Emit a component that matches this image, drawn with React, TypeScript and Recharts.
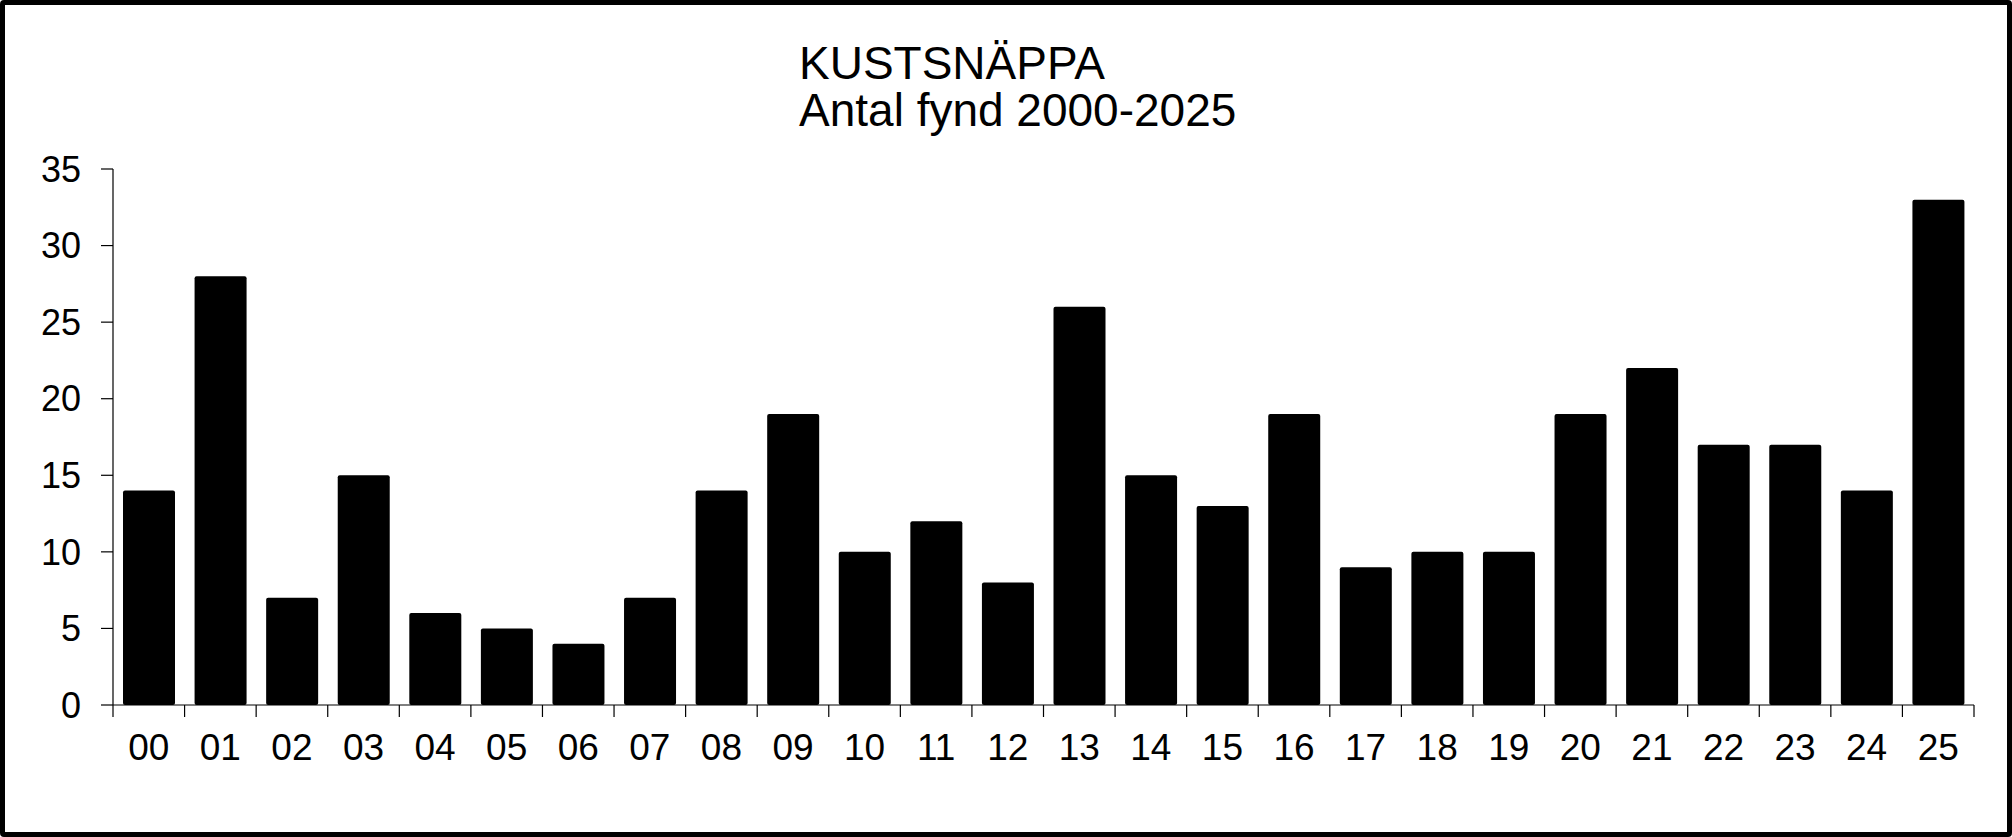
import { BarChart, Bar, XAxis, YAxis } from 'recharts';

const YEARS = ['00', '01', '02', '03', '04', '05', '06', '07', '08', '09', '10', '11', '12',
    '13', '14', '15', '16', '17', '18', '19', '20', '21', '22', '23', '24', '25'];
const FYND = [14, 28, 7, 15, 6, 5, 4, 7, 14, 19, 10, 12, 8, 26, 15, 13, 19, 9, 10, 10, 19, 22, 17, 17, 14, 33];
const Y_TICKS = [0, 5, 10, 15, 20, 25, 30, 35];

const data = YEARS.map((year, i) => ({ year, fynd: FYND[i] }));

const FONT = '"Liberation Sans", Arial, sans-serif';
const TICK_LEN = 12;

// category ticks: label in the middle, tick marks on the band edges (Excel style)
function YearTick(props: any) {
    const { x, y, width, payload, index } = props;
    const band = width / YEARS.length;
    const left = x - band / 2;
    const right = x + band / 2;
    return (
        <g>
            <line x1={left} x2={left} y1={y - TICK_LEN} y2={y} stroke="#000" strokeWidth={1.2} />
            {index === YEARS.length - 1 && (
                <line x1={right} x2={right} y1={y - TICK_LEN} y2={y} stroke="#000" strokeWidth={1.2} />
            )}
            <text x={x} y={y + 17} dy="0.71em" textAnchor="middle" fill="#000" fontSize={37} fontFamily={FONT}>
                {payload.value}
            </text>
        </g>
    );
}

export default function App() {
    return (
        <div style={{ position: 'absolute', left: 0, top: 0, width: 2012, height: 837, background: '#fff', fontFamily: FONT }}>
            <BarChart
                width={2012}
                height={837}
                data={data}
                margin={{ top: 169, right: 38, bottom: 72, left: 0 }}
                style={{ position: 'absolute', left: 0, top: 0 }}
            >
                <XAxis
                    dataKey="year"
                    height={60}
                    interval={0}
                    tickSize={TICK_LEN}
                    tickMargin={0}
                    tickLine={false}
                    axisLine={{ stroke: '#000', strokeWidth: 1.2 }}
                    tick={<YearTick />}
                />
                <YAxis
                    width={113}
                    domain={[0, 35]}
                    ticks={Y_TICKS}
                    interval={0}
                    tickSize={TICK_LEN}
                    tickMargin={20}
                    axisLine={{ stroke: '#000', strokeWidth: 1.2 }}
                    tickLine={{ stroke: '#000', strokeWidth: 1.2 }}
                    tick={{ fill: '#000', fontSize: 36, fontFamily: FONT }}
                />
                <Bar
                    dataKey="fynd"
                    fill="#000"
                    barSize={52}
                    radius={2}
                    isAnimationActive={false}
                />
            </BarChart>
            <div style={{ position: 'absolute', left: 799, top: 40, fontSize: 46, lineHeight: '47px', color: '#000', whiteSpace: 'nowrap' }}>
                <div>KUSTSNÄPPA</div>
                <div>Antal fynd 2000-2025</div>
            </div>
            <div style={{ position: 'absolute', left: 0, top: 0, width: 2012, height: 837, boxSizing: 'border-box', border: '5px solid #000', borderRadius: 4, pointerEvents: 'none' }} />
        </div>
    );
}
